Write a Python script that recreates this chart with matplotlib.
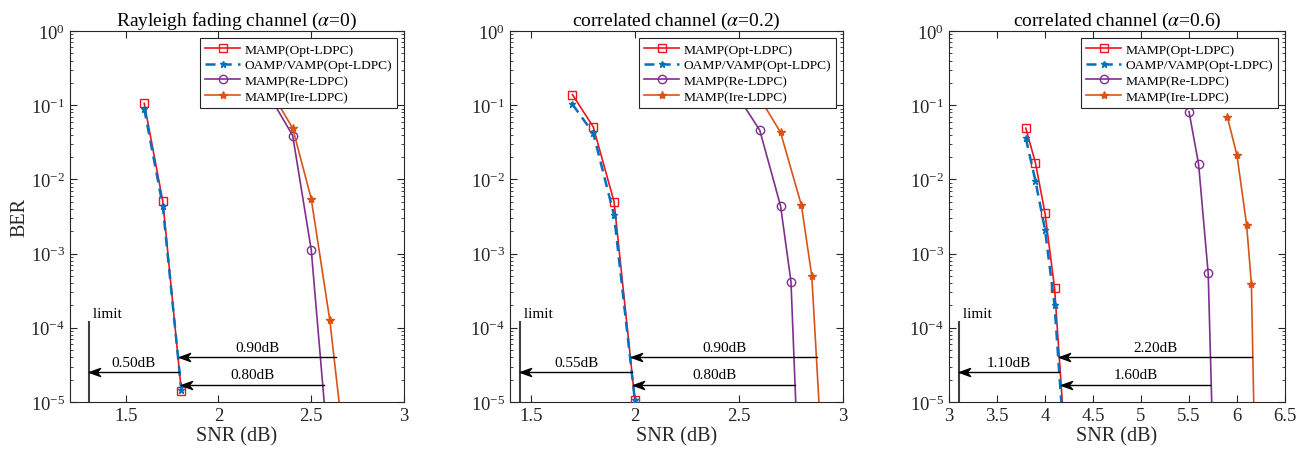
import numpy as np
import matplotlib
matplotlib.use("Agg")
import matplotlib.pyplot as plt
from matplotlib.path import Path
from matplotlib.ticker import LogLocator, NullFormatter

plt.rcParams['font.family'] = ['Liberation Serif', 'DejaVu Serif']
plt.rcParams['mathtext.fontset'] = 'stix'

# ---------------- data ----------------
titles = [r"Rayleigh fading channel ($\alpha$=0)",
          r"correlated channel ($\alpha$=0.2)",
          r"correlated channel ($\alpha$=0.6)"]
labels = ["MAMP(Opt-LDPC)", "OAMP/VAMP(Opt-LDPC)", "MAMP(Re-LDPC)", "MAMP(Ire-LDPC)"]

# panel 1 (alpha = 0)
p1_opt_x = [1.6, 1.7, 1.8]
p1_opt_y = [0.106, 5.1e-3, 1.39e-5]
p1_oamp_x = [1.6, 1.7, 1.8]
p1_oamp_y = [0.090, 4.4e-3, 1.45e-5]
p1_re_x = [2.2, 2.4, 2.5, 2.6]
p1_re_y = [0.28, 0.039, 1.13e-3, 1.3e-6]
p1_ire_x = [2.3, 2.4, 2.5, 2.6, 2.7]
p1_ire_y = [0.13, 0.049, 5.5e-3, 1.27e-4, 8e-7]

# panel 2 (alpha = 0.2)
p2_opt_x = [1.7, 1.8, 1.9, 2.0]
p2_opt_y = [0.139, 0.051, 5.0e-3, 1.05e-5]
p2_oamp_x = [1.7, 1.8, 1.9, 2.0]
p2_oamp_y = [0.103, 0.042, 3.3e-3, 1.05e-5]
p2_re_x = [2.5, 2.6, 2.7, 2.75, 2.8]
p2_re_y = [0.125, 0.046, 4.4e-3, 4.2e-4, 1.2e-7]
p2_ire_x = [2.6, 2.7, 2.8, 2.85, 2.9]
p2_ire_y = [0.125, 0.043, 4.5e-3, 5.0e-4, 1.7e-6]

# panel 3 (alpha = 0.6)
p3_opt_x = [3.8, 3.9, 4.0, 4.1, 4.2]
p3_opt_y = [0.049, 0.0168, 3.5e-3, 3.4e-4, 4.2e-6]
p3_oamp_x = [3.8, 3.9, 4.0, 4.1, 4.2]
p3_oamp_y = [0.036, 9.6e-3, 2.1e-3, 2.0e-4, 2.7e-6]
p3_re_x = [5.5, 5.6, 5.7, 5.8]
p3_re_y = [0.082, 0.016, 5.4e-4, 1e-8]
p3_ire_x = [5.9, 6.0, 6.1, 6.15, 6.2]
p3_ire_y = [0.069, 0.021, 2.45e-3, 3.9e-4, 2e-7]

xlims = [(1.2, 3.0), (1.4, 3.0), (3.0, 6.5)]
xticks = [[1.5, 2, 2.5, 3], [1.5, 2, 2.5, 3], [3, 3.5, 4, 4.5, 5, 5.5, 6, 6.5]]
xticklabels = [["1.5", "2", "2.5", "3"], ["1.5", "2", "2.5", "3"],
               ["3", "3.5", "4", "4.5", "5", "5.5", "6", "6.5"]]

# gap annotations: limit SNR, arrows (from, to, BER level), labels
limit_x = [1.3, 1.45, 3.1]
limit_top = 1.2e-4
arrow_levels = [2.5e-5, 4e-5, 1.7e-5]
arrow_from = [[1.789, 2.634, 2.569], [1.985, 2.877, 2.77], [4.15, 6.16, 5.72]]
arrow_to = [[1.3, 1.785, 1.798], [1.45, 1.98, 1.993], [3.1, 4.15, 4.17]]
gap_text = [["0.50dB", "0.90dB", "0.80dB"],
            ["0.55dB", "0.90dB", "0.80dB"],
            ["1.10dB", "2.20dB", "1.60dB"]]

panels = [
    (p1_opt_x, p1_opt_y, p1_oamp_x, p1_oamp_y, p1_re_x, p1_re_y, p1_ire_x, p1_ire_y),
    (p2_opt_x, p2_opt_y, p2_oamp_x, p2_oamp_y, p2_re_x, p2_re_y, p2_ire_x, p2_ire_y),
    (p3_opt_x, p3_opt_y, p3_oamp_x, p3_oamp_y, p3_re_x, p3_re_y, p3_ire_x, p3_ire_y),
]

# ---------------- styling ----------------
c_red = '#F0141E'
c_blue = '#0072BD'
c_purple = '#7E2F8E'
c_orange = '#D95319'
axc = '0.15'

head = Path([(0, 0), (2, 0.72), (1.35, 0), (2, -0.72), (0, 0)],
            [Path.MOVETO, Path.LINETO, Path.LINETO, Path.LINETO, Path.CLOSEPOLY])

fig = plt.figure(figsize=(13.04, 4.56), dpi=100)
lefts = [70 / 1304, 510 / 1304, 949 / 1304]
widths = [334 / 1304, 333 / 1304, 336 / 1304]
bottom = 1 - 403 / 456
height = (403 - 32) / 456

for i, (ox, oy, ax_, ay, rx, ry, ix, iy) in enumerate(panels):
    ax = fig.add_axes([lefts[i], bottom, widths[i], height])
    ax.set_yscale('log')
    ax.plot(ox, oy, '-', color=c_red, lw=1.2, marker='s', ms=5.5, mfc='none',
            mec=c_red, mew=1.0, label=labels[0], zorder=4)
    ax.plot(ax_, ay, '--', color=c_blue, lw=1.8, marker='*', ms=5, mfc=c_blue,
            mec=c_blue, label=labels[1], zorder=5, dashes=(4, 2.5))
    ax.plot(rx, ry, '-', color=c_purple, lw=1.2, marker='o', ms=6, mfc='none',
            mec=c_purple, mew=1.0, label=labels[2], zorder=3)
    ax.plot(ix, iy, '-', color=c_orange, lw=1.2, marker='*', ms=6, mfc=c_orange,
            mec=c_orange, label=labels[3], zorder=3)

    ax.set_xlim(*xlims[i])
    ax.set_ylim(1e-5, 1)
    ax.set_xticks(xticks[i])
    ax.set_xticklabels(xticklabels[i])
    ax.set_yticks([1e-5, 1e-4, 1e-3, 1e-2, 1e-1, 1])
    ax.yaxis.set_minor_locator(LogLocator(base=10, subs=np.arange(2, 10), numticks=20))
    ax.yaxis.set_minor_formatter(NullFormatter())
    ax.tick_params(which='both', direction='in', top=True, right=True, colors=axc,
                   labelsize=13.5, labelcolor=axc)
    ax.tick_params(which='major', length=5)
    ax.tick_params(which='minor', length=2.5)
    for s in ax.spines.values():
        s.set_color(axc)
        s.set_linewidth(0.8)
    ax.set_title(titles[i], fontsize=14, color='black', pad=4)
    ax.set_xlabel("SNR (dB)", fontsize=14.5, color=axc, labelpad=2)
    if i == 0:
        ax.set_ylabel("BER", fontsize=14.5, color=axc, labelpad=1)

    # limit line
    ax.plot([limit_x[i], limit_x[i]], [1e-5, limit_top], color='0.25', lw=1.5, zorder=2)
    ax.text(limit_x[i], limit_top * 1.05, " limit", fontsize=11, ha='left', va='bottom')
    # arrows
    for k in range(3):
        lev = arrow_levels[k]
        x0, x1 = arrow_from[i][k], arrow_to[i][k]
        ax.plot([x0, x1], [lev, lev], color='black', lw=1.0, zorder=6)
        ax.plot([x1], [lev], linestyle='none', marker=head, ms=16, color='black',
                mec='black', zorder=7)
        ax.text((x0 + x1) / 2, lev * 1.12, gap_text[i][k], fontsize=11,
                ha='center', va='bottom', zorder=7)

    leg = ax.legend(loc='upper right', fontsize=9.7, handlelength=2.6,
                    borderpad=0.35, labelspacing=0.25, handletextpad=0.3,
                    fancybox=False, framealpha=1, edgecolor=axc,
                    borderaxespad=0.55)
    leg.set_zorder(10)
    leg.get_frame().set_linewidth(0.8)

fig.savefig("out.png", dpi=100)
